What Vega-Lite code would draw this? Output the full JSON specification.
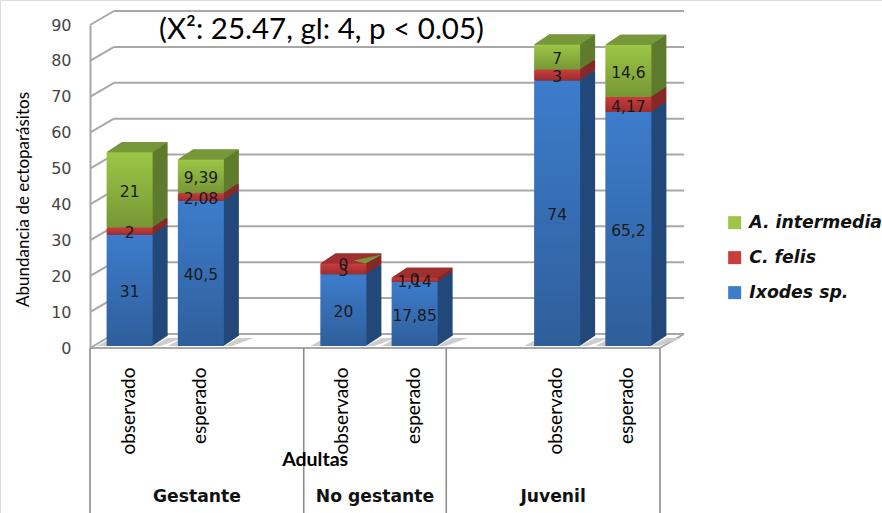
{
  "$schema": "https://vega.github.io/schema/vega-lite/v6.json",
  "width": 882,
  "height": 513,
  "padding": 0,
  "autosize": "none",
  "background": "white",
  "title": {"text": "(X²: 25.47, gl: 4, p < 0.05)", "anchor": "start", "dx": 159, "dy": 49, "font": "Lato", "fontSize": 29.5, "fontWeight": "normal", "color": "#000000"},
  "data": {"name": "conteos"},
  "transform": [
    {"calculate": "datum.grupo + '|' + datum.tipo", "as": "categoria"},
    {"calculate": "indexof(['Ixodes sp.', 'C. felis', 'A. intermedia'], datum.especie)", "as": "orden"},
    {"stack": "valor", "groupby": ["categoria"], "sort": [{"field": "orden", "order": "ascending"}], "as": ["y0", "y1"]},
    {"calculate": "(datum.y0 + datum.y1) / 2", "as": "medio"},
    {"calculate": "replace(toString(datum.valor), '.', ',')", "as": "etiqueta"},
    {"joinaggregate": [{"op": "max", "field": "y1", "as": "cima"}], "groupby": ["categoria"]}
  ],
  "datasets": {
    "conteos": [
      {"grupo": "Gestante", "tipo": "observado", "especie": "Ixodes sp.", "valor": 31},
      {"grupo": "Gestante", "tipo": "observado", "especie": "C. felis", "valor": 2},
      {"grupo": "Gestante", "tipo": "observado", "especie": "A. intermedia", "valor": 21},
      {"grupo": "Gestante", "tipo": "esperado", "especie": "Ixodes sp.", "valor": 40.5},
      {"grupo": "Gestante", "tipo": "esperado", "especie": "C. felis", "valor": 2.08},
      {"grupo": "Gestante", "tipo": "esperado", "especie": "A. intermedia", "valor": 9.39},
      {"grupo": "No gestante", "tipo": "observado", "especie": "Ixodes sp.", "valor": 20},
      {"grupo": "No gestante", "tipo": "observado", "especie": "C. felis", "valor": 3},
      {"grupo": "No gestante", "tipo": "observado", "especie": "A. intermedia", "valor": 0},
      {"grupo": "No gestante", "tipo": "esperado", "especie": "Ixodes sp.", "valor": 17.85},
      {"grupo": "No gestante", "tipo": "esperado", "especie": "C. felis", "valor": 1.14},
      {"grupo": "No gestante", "tipo": "esperado", "especie": "A. intermedia", "valor": 0},
      {"grupo": "Juvenil", "tipo": "observado", "especie": "Ixodes sp.", "valor": 74},
      {"grupo": "Juvenil", "tipo": "observado", "especie": "C. felis", "valor": 3},
      {"grupo": "Juvenil", "tipo": "observado", "especie": "A. intermedia", "valor": 7},
      {"grupo": "Juvenil", "tipo": "esperado", "especie": "Ixodes sp.", "valor": 65.2},
      {"grupo": "Juvenil", "tipo": "esperado", "especie": "C. felis", "valor": 4.17},
      {"grupo": "Juvenil", "tipo": "esperado", "especie": "A. intermedia", "valor": 14.6}
    ],
    "marcas": [{"tick": 0}, {"tick": 10}, {"tick": 20}, {"tick": 30}, {"tick": 40}, {"tick": 50}, {"tick": 60}, {"tick": 70}, {"tick": 80}, {"tick": 90}],
    "grupos": [
      {"grupo": "Gestante", "inicio": 0, "fin": 3},
      {"grupo": "No gestante", "inicio": 3, "fin": 5},
      {"grupo": "Juvenil", "inicio": 5, "fin": 8}
    ]
  },
  "resolve": {"scale": {"x": "independent"}},
  "layer": [
    {
      "description": "Back wall, floor and separators of the category table, on a scale counted in category slots",
      "layer": [
        {
          "data": {"name": "marcas"},
          "mark": {"type": "rule", "color": "#a8a8a8", "strokeWidth": 2, "xOffset": 24, "x2Offset": 24, "yOffset": -14},
          "encoding": {
            "x": {"datum": 0, "type": "quantitative", "scale": {"domain": [0, 8], "range": [90, 660], "nice": false, "zero": false}, "axis": null},
            "x2": {"datum": 8},
            "y": {
              "field": "tick", "type": "quantitative",
              "scale": {"domain": [0, 90], "range": [348, 25], "nice": false, "zero": false, "clamp": false},
              "axis": {
                "orient": "left", "offset": -90, "values": [0, 10, 20, 30, 40, 50, 60, 70, 80, 90],
                "grid": false, "ticks": false, "domainColor": "#a8a8a8", "domainWidth": 2,
                "labelFont": "DejaVu Sans", "labelFontSize": 16, "labelColor": "#444444", "labelPadding": 19,
                "title": "Abundancia de ectoparásitos", "titleFont": "Lato", "titleFontSize": 17, "titleFontWeight": "normal",
                "titleColor": "#000000", "titleAngle": 270, "titleX": -67, "titleY": 199, "titleAlign": "center", "titleBaseline": "middle"
              }
            }
          }
        },
        {
          "data": {"name": "marcas"},
          "transform": [{"calculate": "datum.tick + 3.9", "as": "fondo"}],
          "mark": {"type": "rule", "color": "#a8a8a8", "strokeWidth": 2},
          "encoding": {
            "x": {"datum": 0, "type": "quantitative", "axis": null},
            "x2": {"datum": 0.337},
            "y": {"field": "tick", "type": "quantitative"},
            "y2": {"field": "fondo"}
          }
        },
        {
          "data": {"values": [{"tick": 0}]},
          "mark": {"type": "rule", "color": "#a8a8a8", "strokeWidth": 2},
          "encoding": {
            "x": {"datum": 0, "type": "quantitative", "axis": null},
            "x2": {"datum": 8},
            "y": {"field": "tick", "type": "quantitative"}
          }
        },
        {
          "data": {"values": [{"tick": 0, "fondo": 3.9}]},
          "mark": {"type": "rule", "color": "#a8a8a8", "strokeWidth": 2},
          "encoding": {
            "x": {"datum": 8, "type": "quantitative", "axis": null},
            "x2": {"datum": 8.337},
            "y": {"field": "tick", "type": "quantitative"},
            "y2": {"field": "fondo"}
          }
        },
        {
          "data": {"values": [{"limite": 0}, {"limite": 3}, {"limite": 5}, {"limite": 8}]},
          "mark": {"type": "rule", "color": "#8c8c8c", "strokeWidth": 1.6},
          "encoding": {
            "x": {"field": "limite", "type": "quantitative", "axis": null},
            "y": {"datum": 0, "type": "quantitative"},
            "y2": {"datum": -46}
          }
        },
        {
          "data": {"name": "grupos"},
          "transform": [{"calculate": "(datum.inicio + datum.fin) / 2", "as": "centro"}],
          "mark": {"type": "text", "font": "DejaVu Sans", "fontWeight": "bold", "fontSize": 17.2, "color": "#111111", "align": "center", "baseline": "middle"},
          "encoding": {
            "x": {"field": "centro", "type": "quantitative", "axis": null},
            "y": {"datum": -41.4, "type": "quantitative"},
            "text": {"field": "grupo"}
          }
        },
        {
          "data": {"values": [{"rotulo": "Adultas"}]},
          "mark": {"type": "text", "font": "Lato", "fontWeight": "bold", "fontSize": 19.5, "color": "#000000", "align": "center", "baseline": "middle"},
          "encoding": {
            "x": {"datum": 3.16, "type": "quantitative", "axis": null},
            "y": {"datum": -31.2, "type": "quantitative"},
            "text": {"field": "rotulo"}
          }
        }
      ]
    },
    {
      "description": "Floor shadow, side and top faces of the stacked columns",
      "encoding": {
        "x": {
          "field": "categoria", "type": "nominal", "sort": null,
          "scale": {
            "domain": ["Gestante|observado", "Gestante|esperado", "Gestante|", "No gestante|observado", "No gestante|esperado", "Juvenil|", "Juvenil|observado", "Juvenil|esperado"],
            "range": [90, 660], "paddingInner": 0, "paddingOuter": 0
          },
          "axis": null
        }
      },
      "layer": [
        {
          "transform": [{"filter": "datum.orden === 0"}],
          "mark": {"type": "point", "filled": true, "opacity": 1, "size": 4, "xOffset": 4, "yOffset": -2, "color": "#cdcdcd", "shape": "M23 0L31 0L53 -8L38 -8ZM-23 0L-33 0L-20 -7Z"},
          "encoding": {"y": {"datum": 0, "type": "quantitative"}}
        },
        {
          "encoding": {
            "y": {"field": "y0", "type": "quantitative"},
            "y2": {"field": "y1"},
            "fill": {
              "field": "especie", "type": "nominal", "legend": null,
              "scale": {
                "domain": ["Ixodes sp.", "C. felis", "A. intermedia"],
                "range": ["#23497a", "#852827", "#5f7c2d"]
              }
            }
          },
          "layer": [
            {"mark": {"type": "bar", "width": 46, "xOffset": 19, "x2Offset": 19, "yOffset": -12, "y2Offset": -12}},
            {"mark": {"type": "bar", "width": 46, "xOffset": 18, "x2Offset": 18, "yOffset": -11.33, "y2Offset": -11.33}},
            {"mark": {"type": "bar", "width": 46, "xOffset": 17, "x2Offset": 17, "yOffset": -10.67, "y2Offset": -10.67}},
            {"mark": {"type": "bar", "width": 46, "xOffset": 16, "x2Offset": 16, "yOffset": -10, "y2Offset": -10}},
            {"mark": {"type": "bar", "width": 46, "xOffset": 15, "x2Offset": 15, "yOffset": -9.33, "y2Offset": -9.33}},
            {"mark": {"type": "bar", "width": 46, "xOffset": 14, "x2Offset": 14, "yOffset": -8.67, "y2Offset": -8.67}},
            {"mark": {"type": "bar", "width": 46, "xOffset": 13, "x2Offset": 13, "yOffset": -8, "y2Offset": -8}},
            {"mark": {"type": "bar", "width": 46, "xOffset": 12, "x2Offset": 12, "yOffset": -7.33, "y2Offset": -7.33}},
            {"mark": {"type": "bar", "width": 46, "xOffset": 11, "x2Offset": 11, "yOffset": -6.67, "y2Offset": -6.67}},
            {"mark": {"type": "bar", "width": 46, "xOffset": 10, "x2Offset": 10, "yOffset": -6, "y2Offset": -6}},
            {"mark": {"type": "bar", "width": 46, "xOffset": 9, "x2Offset": 9, "yOffset": -5.33, "y2Offset": -5.33}},
            {"mark": {"type": "bar", "width": 46, "xOffset": 8, "x2Offset": 8, "yOffset": -4.67, "y2Offset": -4.67}},
            {"mark": {"type": "bar", "width": 46, "xOffset": 7, "x2Offset": 7, "yOffset": -4, "y2Offset": -4}},
            {"mark": {"type": "bar", "width": 46, "xOffset": 6, "x2Offset": 6, "yOffset": -3.33, "y2Offset": -3.33}},
            {"mark": {"type": "bar", "width": 46, "xOffset": 5, "x2Offset": 5, "yOffset": -2.67, "y2Offset": -2.67}}
          ]
        },
        {
          "transform": [{"filter": "datum.y1 === datum.cima && datum.valor > 0"}],
          "mark": {"type": "point", "filled": true, "opacity": 1, "size": 4, "xOffset": 4, "yOffset": -2, "shape": "M-23 0L23 0L38 -10L-8 -10Z"},
          "encoding": {
            "y": {"field": "y1", "type": "quantitative"},
            "fill": {"value": "#76973a", "condition": {"test": "datum.especie === 'C. felis'", "value": "#a12f2e"}}
          }
        },
        {
          "transform": [{"filter": "datum.valor === 0 && datum.tipo === 'observado'"}],
          "mark": {"type": "point", "filled": true, "opacity": 1, "size": 4, "xOffset": 4, "yOffset": -2, "color": "#76973a", "shape": "M10 -3L39 -9L22 0Z"},
          "encoding": {"y": {"field": "y1", "type": "quantitative"}}
        }
      ]
    },
    {
      "description": "Front faces, with the category axis and the species legend",
      "mark": {"type": "bar", "width": 46, "xOffset": 4, "x2Offset": 4, "yOffset": -2, "y2Offset": -2},
      "encoding": {
        "x": {
          "field": "categoria", "type": "nominal", "sort": null,
          "scale": {
            "domain": ["Gestante|observado", "Gestante|esperado", "Gestante|", "No gestante|observado", "No gestante|esperado", "Juvenil|", "Juvenil|observado", "Juvenil|esperado"],
            "range": [90, 660], "paddingInner": 0, "paddingOuter": 0
          },
          "axis": {
            "orient": "bottom", "offset": -165, "domain": false, "ticks": false, "grid": false, "title": null,
            "labelExpr": "split(datum.value, '|')[1]", "labelAngle": 270, "labelAlign": "right", "labelBaseline": "middle",
            "labelPadding": 19, "labelOffset": 3, "labelFont": "Lato", "labelFontSize": 19, "labelColor": "#000000", "labelOverlap": false
          }
        },
        "y": {"field": "y0", "type": "quantitative"},
        "y2": {"field": "y1"},
        "color": {
          "field": "especie", "type": "nominal",
          "scale": {
            "domain": ["A. intermedia", "C. felis", "Ixodes sp."],
            "range": ["#9cc646", "#cb3c3c", "#3d7ccb"]
          },
          "legend": {
            "orient": "none", "legendX": 726, "legendY": 214, "title": null, "symbolType": "square", "symbolSize": 169,
            "symbolStrokeWidth": 0, "rowPadding": 17, "labelFont": "DejaVu Sans", "labelFontStyle": "italic", "labelFontWeight": "bold",
            "labelFontSize": 17.3, "labelColor": "#111111", "labelLimit": 200, "labelOffset": 6
          }
        }
      }
    },
    {
      "description": "Top-to-bottom shading and value labels over the front faces",
      "encoding": {
        "x": {
          "field": "categoria", "type": "nominal", "sort": null,
          "scale": {
            "domain": ["Gestante|observado", "Gestante|esperado", "Gestante|", "No gestante|observado", "No gestante|esperado", "Juvenil|", "Juvenil|observado", "Juvenil|esperado"],
            "range": [90, 660], "paddingInner": 0, "paddingOuter": 0
          },
          "axis": null
        }
      },
      "layer": [
        {
          "mark": {
            "type": "bar", "width": 46, "xOffset": 4, "x2Offset": 4, "yOffset": -2, "y2Offset": -2,
            "color": {"gradient": "linear", "x1": 0, "y1": 0, "x2": 0, "y2": 1, "stops": [{"offset": 0, "color": "rgba(0,0,0,0)"}, {"offset": 1, "color": "rgba(0,0,0,0.24)"}]}
          },
          "encoding": {
            "y": {"field": "y0", "type": "quantitative"},
            "y2": {"field": "y1"}
          }
        },
        {
          "mark": {"type": "text", "font": "DejaVu Sans", "fontSize": 15.5, "color": "#1a1a1a", "align": "center", "baseline": "middle", "xOffset": 4},
          "encoding": {
            "y": {"field": "medio", "type": "quantitative"},
            "text": {"field": "etiqueta"}
          }
        }
      ]
    }
  ]
}
